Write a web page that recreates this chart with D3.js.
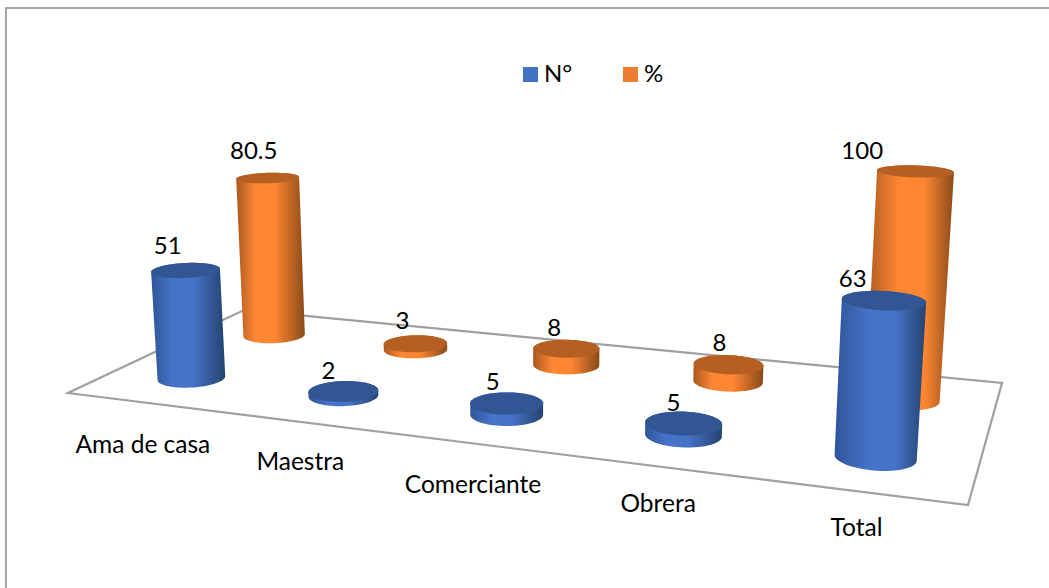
<!DOCTYPE html>
<html>
<head>
<meta charset="utf-8">
<script src="https://cdn.jsdelivr.net/npm/d3@7"></script>
<style>
  html, body { margin: 0; padding: 0; background: #fff; }
  svg { display: block; }
  text { font-family: Lato, "Open Sans", sans-serif; fill: #000; }
</style>
</head>
<body>
<svg id="chart" width="1049" height="588"></svg>
<script>
// Occupation table
const categories = ["Ama de casa", "Maestra", "Comerciante", "Obrera", "Total"];
const seriesNames = ["N°", "%"];
const countValues = [51, 2, 5, 5, 63];
const percentValues = [80.5, 3, 8, 8, 100];
const valueLabels = [["51", "2", "5", "5", "63"], ["80.5", "3", "8", "8", "100"]];

// Layout of the 3D scene
const W = 1049, H = 588;
const floor = { frontLeft: [68, 393], frontRight: [968, 505], backRight: [1002, 383], backLeft: [244, 310] };
const verticalVanish = [540, 6800];
const radiusU = 0.04, radiusV = 0.097;
const labelShiftX = [[-18, -15, -14, -10, -31], [-14, -13, -12, -9, -53]];
const labelShiftY = [[-16, -12, -13, -12, -13], [-19, -15, -13, -13, -12]];
const categoryShiftX = [-1, -1.5, 1, 1, -3];
const categoryShiftY = [51, 48, 50, 46, 45];

const palette = {
  "N°":  { swatch: "#4472c4", top: "#325694", edgeL: "#2f5597", mid: "#4573c8", edgeR: "#25436f" },
  "%":   { swatch: "#ed7d31", top: "#b65f23", edgeL: "#a9591f", mid: "#ff8733", edgeR: "#8a4a19" }
};

const svg = d3.select("#chart");
const defs = svg.append("defs");

// Ground-plane homography from the unit square (u along categories, v along series)
const [x0, y0] = floor.frontLeft, [x1, y1] = floor.frontRight,
      [x2, y2] = floor.backRight, [x3, y3] = floor.backLeft;
const sx = x0 - x1 + x2 - x3, sy = y0 - y1 + y2 - y3;
const dx1 = x1 - x2, dx2 = x3 - x2, dy1 = y1 - y2, dy2 = y3 - y2;
const det = dx1 * dy2 - dx2 * dy1;
const g = (sx * dy2 - dx2 * sy) / det, h = (dx1 * sy - sx * dy1) / det;
const a = x1 - x0 + g * x1, b = x3 - x0 + h * x3;
const d = y1 - y0 + g * y1, e = y3 - y0 + h * y3;

// Scales: category band, series band, value to projective height
const bandU = d3.scaleBand().domain(categories).range([0, 1]);
const warpU = d3.scalePow().exponent(0.985).domain([0, 1]).range([0, 1]);
const scaleU = c => warpU(bandU(c) + bandU.bandwidth() / 2);
const bandV = d3.scaleBand().domain(seriesNames).range([0, 1]);
const scaleV = s => bandV(s) + bandV.bandwidth() / 2;
const scaleT = d3.scaleLinear().domain([0, 100]).range([0, 0.0332]);

function project(u, v, t) {
  const w = g * u + h * v + 1 - t;
  return [
    (a * u + b * v + x0 - t * verticalVanish[0]) / w,
    (d * u + e * v + y0 - t * verticalVanish[1]) / w
  ];
}

function ring(u, v, t) {
  return d3.range(0, 72).map(i => {
    const th = (i / 72) * 2 * Math.PI;
    return project(u + radiusU * Math.cos(th), v + radiusV * Math.sin(th), t);
  });
}

const closedLine = d3.line().curve(d3.curveLinearClosed);

// Frame around the chart area
svg.append("path")
  .attr("d", d3.line()([[6, H], [6, 8], [W, 8]]))
  .attr("fill", "none").attr("stroke", "#a6a6a6").attr("stroke-width", 2);

// Floor of the scene
svg.append("path")
  .attr("d", closedLine([floor.frontLeft, floor.frontRight, floor.backRight, floor.backLeft]))
  .attr("fill", "#fff").attr("stroke", "#a0a0a0").attr("stroke-width", 2.2)
  .attr("stroke-linejoin", "miter");

// Assemble cylinders and paint them back to front
const rows = [percentValues, countValues].flatMap((vals, k) => {
  const name = k === 0 ? seriesNames[1] : seriesNames[0];
  const sIndex = k === 0 ? 1 : 0;
  return categories.map((cat, i) => ({ cat, i, name, sIndex, value: vals[i] }));
});

const cylinders = svg.append("g");
rows.forEach((r, n) => {
  const u = scaleU(r.cat), v = scaleV(r.name), t = scaleT(r.value);
  const base = ring(u, v, 0), top = ring(u, v, t);
  const col = palette[r.name];
  const hull = d3.polygonHull(base.concat(top));
  const [bl, br] = d3.extent(hull, p => p[0]);

  const id = "side" + n;
  const peak = r.i === categories.length - 1 ? 0.6 : 0.5;
  const grad = defs.append("linearGradient").attr("id", id)
    .attr("gradientUnits", "userSpaceOnUse")
    .attr("x1", bl).attr("x2", br).attr("y1", 0).attr("y2", 0);
  [[0, col.edgeL], [peak - 0.22, col.mid], [peak + 0.06, col.mid], [1, col.edgeR]].forEach(([o, c]) =>
    grad.append("stop").attr("offset", o).attr("stop-color", c));

  cylinders.append("path").attr("d", closedLine(hull)).attr("fill", `url(#${id})`);
  cylinders.append("path").attr("d", closedLine(top)).attr("fill", col.top);
});

// Value labels above each cylinder
rows.forEach(r => {
  const u = scaleU(r.cat), v = scaleV(r.name), t = scaleT(r.value);
  const p = project(u, v, t);
  svg.append("text")
    .attr("x", p[0] + labelShiftX[r.sIndex][r.i])
    .attr("y", p[1] + labelShiftY[r.sIndex][r.i])
    .attr("text-anchor", "middle")
    .attr("font-size", 24)
    .text(valueLabels[r.sIndex][r.i]);
});

// Category labels along the front edge
categories.forEach((c, i) => {
  const p = project(scaleU(c), 0, 0);
  svg.append("text")
    .attr("x", p[0] + categoryShiftX[i]).attr("y", p[1] + categoryShiftY[i])
    .attr("text-anchor", "middle")
    .attr("font-size", 24.5)
    .text(c);
});

// Legend
const legendX = d3.scalePoint().domain(seriesNames).range([523, 623]);
seriesNames.forEach(s => {
  svg.append("rect").attr("x", legendX(s)).attr("y", 67).attr("width", 15).attr("height", 15)
    .attr("fill", palette[s].swatch);
  svg.append("text").attr("x", legendX(s) + 21).attr("y", 82)
    .attr("font-size", 24).text(s);
});
</script>
</body>
</html>
